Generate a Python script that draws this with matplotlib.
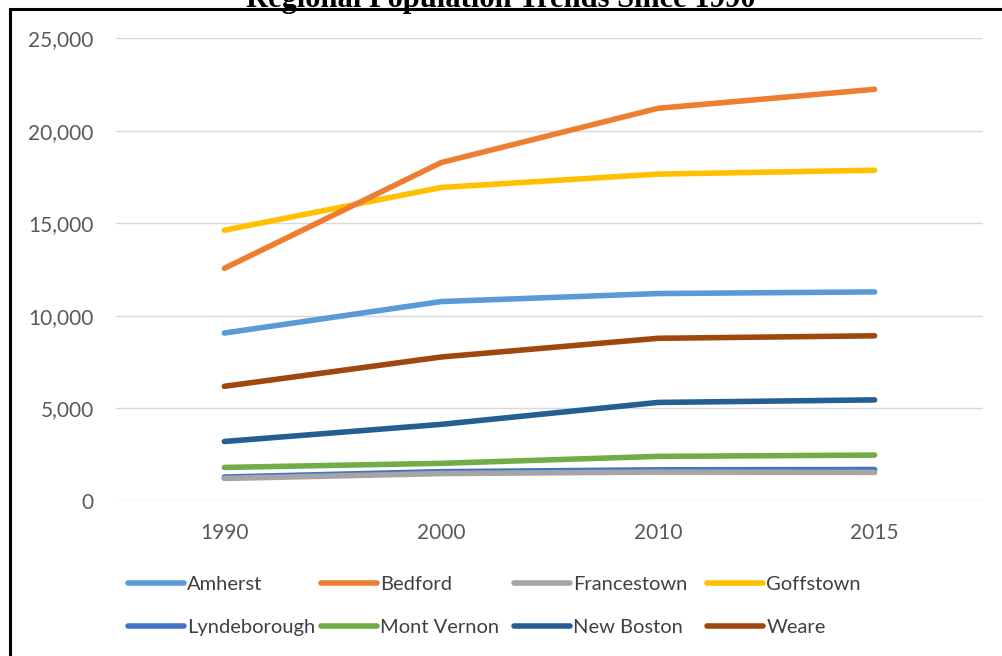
import matplotlib.pyplot as plt
from matplotlib.patches import Rectangle

# population by town
years = ['1990', '2000', '2010', '2015']
towns = ['Amherst', 'Bedford', 'Francestown', 'Goffstown',
         'Lyndeborough', 'Mont Vernon', 'New Boston', 'Weare']
amherst = [9068, 10769, 11201, 11290]
bedford = [12563, 18274, 21203, 22230]
francestown = [1217, 1480, 1562, 1545]
goffstown = [14621, 16929, 17651, 17860]
lyndeborough = [1294, 1585, 1683, 1700]
mont_vernon = [1812, 2034, 2409, 2480]
new_boston = [3214, 4138, 5321, 5460]
weare = [6193, 7776, 8785, 8920]
colors = ['#5B9BD5', '#ED7D31', '#A5A5A5', '#FFC000',
          '#4472C4', '#70AD47', '#255E91', '#9E480E']

series = [amherst, bedford, francestown, goffstown,
          lyndeborough, mont_vernon, new_boston, weare]

W, H = 1002, 656
fig = plt.figure(figsize=(W / 100, H / 100), dpi=100)
ax = fig.add_axes([116 / W, 1 - 501 / H, (983 - 116) / W, (501 - 38) / H])

x = range(len(years))
# draw in reverse so the first series sits on top like excel
handles = {}
for name, vals, c in reversed(list(zip(towns, series, colors))):
    ln, = ax.plot(x, vals, color=c, lw=4.0, solid_capstyle='round', label=name)
    handles[name] = ln

ax.set_xlim(-0.5, 3.5)
ax.set_ylim(0, 25000)
ax.set_yticks(range(0, 25001, 5000))
ax.set_yticklabels([f'{v:,}' for v in range(0, 25001, 5000)])
ax.set_xticks(list(x))
ax.set_xticklabels(years)
ax.grid(axis='y', color='#D9D9D9', lw=1.0)
ax.set_axisbelow(True)
for s in ax.spines.values():
    s.set_visible(False)
ax.tick_params(length=0, labelsize=15, labelcolor='#595959')
ax.tick_params(axis='y', pad=16)
ax.tick_params(axis='x', pad=16)
for lab in ax.get_xticklabels() + ax.get_yticklabels():
    lab.set_family('Lato')

# legend: excel lays entries out on an even grid, so one small legend per entry
col_x = [128, 321, 514, 707]
row_y = [584, 627]
for i, name in enumerate(towns):
    r, c = divmod(i, 4)
    lg = fig.legend([handles[name]], [name], loc='center left',
                    bbox_to_anchor=(col_x[c] / W, 1 - row_y[r] / H),
                    frameon=False, handlelength=2.8, handletextpad=0.15,
                    borderpad=0, borderaxespad=0,
                    prop={'family': 'Lato', 'size': 14.5})
    lg.get_texts()[0].set_color('#404040')

# chart border, running off the right and bottom edges
fig.add_artist(Rectangle((10 / W, -0.2), 1.2, 1 - 9 / H + 0.2,
                         transform=fig.transFigure, fill=False,
                         edgecolor='black', lw=2.2, zorder=5))
fig.text(0.5, 1 - 7 / H, 'Regional Population Trends Since 1990',
         ha='center', va='baseline', fontsize=22, fontweight='bold',
         family='Liberation Serif', zorder=6)

fig.savefig('out.png', dpi=100)
